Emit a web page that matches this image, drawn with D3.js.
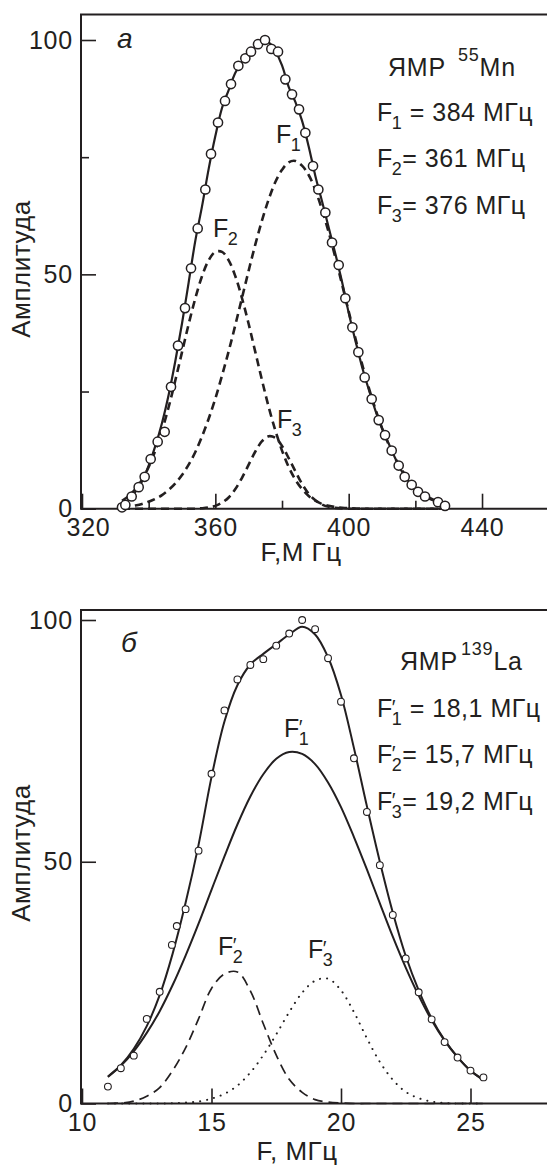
<!DOCTYPE html>
<html>
<head>
<meta charset="utf-8">
<script src="https://cdn.jsdelivr.net/npm/d3@7"></script>
<style>
  body { margin: 0; background: #fff; }
  svg { display: block; }
  text { font-family: "Liberation Sans", Arial, sans-serif; fill: #231f20; }
</style>
</head>
<body>
<svg id="chart" width="547" height="1167"></svg>
<script>
// ---------------------------------------------------------------- data --
// panel a : 55Mn NMR, F in MHz, amplitude in %
var mnGrid = [332, 334, 336, 338, 340, 342, 344, 346, 348, 350,
              352, 354, 356, 358, 360, 362, 364, 366, 368, 370,
              372, 374, 376, 378, 380, 382, 384, 386, 388, 390,
              392, 394, 396, 398, 400, 402, 404, 406, 408, 410,
              412, 414, 416, 418, 420, 422, 424, 426, 428, 430];
var mnTotal = [0.8, 2.0, 3.6, 5.8, 9.2, 13.4, 18.3, 24.3, 31.5, 39.5,
               48.3, 57.2, 64.5, 72.5, 79.5, 85.5, 89.3, 93.0, 95.4, 97.0,
               98.6, 99.6, 99.5, 97.6, 94.6, 90.0, 86.8, 82.8, 77.3, 71.0,
               65.6, 60.0, 54.4, 48.4, 41.8, 35.9, 30.3, 25.5, 21.0, 17.2,
               13.9, 10.7, 7.9, 5.8, 4.2, 3.0, 2.2, 1.6, 0.9, 0.4];
var mnF1 = [0.3, 0.5, 0.7, 1.0, 1.5, 2.1, 2.9, 4.0, 5.4, 7.2,
            9.4, 12.1, 15.4, 19.2, 23.5, 28.4, 33.6, 39.2, 45.0, 50.8,
            56.4, 61.5, 66.0, 69.7, 72.3, 73.9, 74.2, 73.2, 71.2, 68.0,
            63.8, 59.0, 53.6, 47.9, 42.1, 36.4, 30.9, 25.9, 21.3, 17.2,
            13.7, 10.7, 8.2, 6.2, 4.6, 3.4, 2.4, 1.7, 1.2, 0.8];
var mnF2 = [1.7, 2.7, 4.2, 6.2, 8.9, 12.4, 16.7, 21.7, 27.4, 33.4,
            39.4, 44.9, 49.6, 53.0, 54.8, 54.8, 53.0, 49.6, 44.9, 39.4,
            33.4, 27.4, 21.7, 16.7, 12.4, 8.9, 6.2, 4.2, 2.7, 1.7,
            1.0, 0.6, 0.35, 0.2, 0.1, 0.05, 0, 0, 0, 0,
            0, 0, 0, 0, 0, 0, 0, 0, 0, 0];
var mnF3 = [0, 0, 0, 0, 0, 0, 0, 0, 0, 0,
            0, 0, 0.1, 0.27, 0.6, 1.3, 2.4, 4.2, 6.6, 9.4,
            12.2, 14.4, 15.45, 15.1, 13.4, 10.8, 8.0, 5.3, 3.2, 1.8,
            0.9, 0.4, 0.17, 0.06, 0, 0, 0, 0, 0, 0,
            0, 0, 0, 0, 0, 0, 0, 0, 0, 0];
var mnPointsF = [332, 333, 334.9, 337, 338.8, 340.6, 342.7, 344.8, 346.7, 348.8,
                 350.9, 352.7, 354.7, 357, 358.7, 360.8, 362.9, 364.7, 366.9, 369,
                 370.7, 372.8, 374.9, 376.8, 378.8, 381, 383, 385.1, 387, 389.3,
                 390.9, 393, 395, 397, 399, 401.1, 402.9, 404.8, 406.9, 409,
                 410.9, 412.9, 415, 416.8, 418.9, 420.8, 422.9, 426.8, 428.9];
var mnPointsA = [0.3, 0.8, 2.6, 4.6, 6.8, 10.6, 14.3, 16.4, 26, 34.8,
                 42.8, 51.3, 59.8, 68.1, 75.7, 82.4, 87, 90.6, 94.5, 96.1,
                 97.5, 99.1, 100, 98.1, 97.5, 91.6, 88.4, 85.2, 80.2, 73.1,
                 68.1, 63.2, 56.8, 52, 44.9, 38.7, 33.4, 28, 23.4, 18.9,
                 15.7, 12.4, 9.2, 6.8, 5.1, 3.6, 2.6, 1.4, 0.6];

// panel б : 139La NMR
var laGrid = [11, 11.5, 12, 12.5, 13, 13.5, 14, 14.5, 15, 15.5,
              16, 16.5, 17, 17.5, 18, 18.5, 19, 19.5, 20, 20.5,
              21, 21.5, 22, 22.5, 23, 23.5, 24, 24.5, 25, 25.5];
var laTotal = [5.6, 7.9, 11.3, 16.0, 22.4, 31.0, 41.5, 53.5, 67.5, 79.0,
               86.5, 90.8, 93.0, 95.0, 97.0, 98.6, 97.0, 92.3, 84.5, 73.5,
               61.5, 50.0, 39.5, 30.5, 23.4, 17.6, 13.1, 9.6, 6.8, 4.9];
var laF1 = [5.5, 7.8, 10.8, 14.6, 19.1, 24.5, 30.6, 37.2, 44.2, 51.1,
            57.7, 63.5, 68.1, 71.3, 72.7, 72.3, 70.2, 66.4, 61.3, 55.1,
            48.4, 41.4, 34.5, 28.1, 22.3, 17.2, 13.0, 9.6, 6.8, 4.8];
var laF2 = [0, 0.1, 0.5, 1.5, 3.3, 6.8, 11.5, 17.5, 23.8, 26.8,
            27.2, 23.3, 16.5, 10.0, 5.0, 2.3, 0.8, 0.3, 0.1, 0,
            0, 0, 0, 0, 0, 0, 0, 0, 0, 0];
var laF3 = [0, 0, 0, 0, 0, 0.05, 0.2, 0.4, 1.0, 2.0,
            3.7, 6.4, 10.0, 14.3, 18.9, 22.9, 25.4, 25.8, 23.4, 18.9,
            13.5, 8.6, 4.9, 2.4, 1.1, 0.4, 0.1, 0, 0, 0];
var laPointsF = [11, 11.5, 12, 12.5, 13, 13.47, 13.66, 14, 14.5, 15,
                 15.5, 16, 16.5, 17, 17.5, 18, 18.5, 19, 19.5, 20,
                 20.5, 21, 21.5, 22, 22.5, 23, 23.5, 24, 24.5, 25, 25.5];
var laPointsA = [3.5, 7.3, 9.9, 17.5, 23.1, 32.8, 36.7, 40.2, 52.3, 68.2,
                 81.3, 87.7, 90.7, 91.9, 94.7, 97.2, 100, 98.1, 92.1, 83.1,
                 71.4, 60.3, 49.3, 39.0, 30.0, 23.0, 17.4, 12.7, 9.5, 6.8, 5.4];

// tick values
var mnXLabels = [320, 360, 400, 440], mnXMinor = [340, 380, 420];
var laXLabels = [10, 15, 20, 25];
var yLabels = [0, 50, 100], yMinor = [25, 75];

// ---------------------------------------------------------------- draw --
var W = 547;
var ink = "#231f20";
var svg = d3.select("#chart");

function zip(xs, ys) { return xs.map(function (v, i) { return [v, ys[i]]; }); }

// F with subscript (and optional prime above it), then the rest of the line
function fLabel(g, x, y, sub, prime, rest, size) {
    var t = g.append("text").attr("x", x).attr("y", y).attr("font-size", size)
        .style("letter-spacing", "0.5px");
    t.append("tspan").text("F");
    var fw = t.node().getComputedTextLength();
    if (prime) {
        t.append("tspan").attr("x", x + fw - 1).attr("dy", -3)
            .attr("font-size", size * 0.8).text("′");
        t.append("tspan").attr("x", x + fw - 1).attr("dy", 11)
            .attr("font-size", size * 0.72).text(sub);
    } else {
        t.append("tspan").attr("x", x + fw - 1).attr("dy", 8)
            .attr("font-size", size * 0.72).text(sub);
    }
    if (rest) t.append("tspan").attr("dy", -8).text(rest);
    return t;
}

function drawPanel(p) {
    var g = svg.append("g");
    var x = d3.scaleLinear().domain(p.xDomain).range(p.xRange);
    var y = d3.scaleLinear().domain([0, 100]).range(p.yRange);
    var y0 = y(0);

    // frame: left, top and bottom lines (right side runs off the page)
    g.append("path")
        .attr("d", "M" + W + "," + p.top + "H" + p.left + "V" + y0 + "H" + W)
        .attr("fill", "none").attr("stroke", ink).attr("stroke-width", 2);

    // x ticks, pointing inwards
    var gx = g.append("g").attr("transform", "translate(0," + y0 + ")")
        .call(d3.axisBottom(x).tickValues(p.xLabels).tickSizeInner(-15)
            .tickSizeOuter(0).tickPadding(10).tickFormat(d3.format("d")));
    if (p.xMinor) {
        g.append("g").attr("transform", "translate(0," + y0 + ")")
            .call(d3.axisBottom(x).tickValues(p.xMinor).tickSizeInner(-8)
                .tickSizeOuter(0).tickFormat(""));
    }
    gx.selectAll("text").attr("dx", function (d) { return d === p.xDomain[0] ? p.firstDx : 0; });

    g.append("g").attr("transform", "translate(" + p.left + ",0)")
        .call(d3.axisLeft(y).tickValues(yLabels).tickSizeInner(-15)
            .tickSizeOuter(0).tickPadding(8));
    if (p.yMinor) {
        g.append("g").attr("transform", "translate(" + p.left + ",0)")
            .call(d3.axisLeft(y).tickValues(yMinor).tickSizeInner(-8)
                .tickSizeOuter(0).tickFormat(""));
    }
    g.selectAll(".domain").remove();
    g.selectAll(".tick line").attr("stroke", ink).attr("stroke-width", 1.6);
    g.selectAll(".tick text").attr("font-size", 25)
        .attr("font-family", "Liberation Sans, Arial, sans-serif")
        .attr("fill", ink).style("letter-spacing", "0.8px");

    var line = d3.line()
        .x(function (d) { return x(d[0]); })
        .y(function (d) { return y(d[1]); })
        .curve(d3.curveCatmullRom.alpha(0.5));

    p.curves.forEach(function (c) {
        g.append("path")
            .attr("d", line(zip(p.grid, c.values)))
            .attr("fill", "none").attr("stroke", ink)
            .attr("stroke-width", c.width)
            .attr("stroke-dasharray", c.dash || null)
            .attr("stroke-linecap", c.cap || "butt");
    });

    g.selectAll("circle.pt").data(zip(p.pointsF, p.pointsA)).join("circle")
        .attr("class", "pt")
        .attr("cx", function (d) { return x(d[0]); })
        .attr("cy", function (d) { return y(d[1]); })
        .attr("r", p.r).attr("fill", "#fff").attr("stroke", ink).attr("stroke-width", p.rw);

    // axis titles
    g.append("text").attr("transform", "translate(30," + p.yTitleY + ") rotate(-90)")
        .attr("text-anchor", "middle").attr("font-size", 26).style("letter-spacing", "0.5px")
        .text("Амплитуда");
    g.append("text").attr("x", p.xTitle[0]).attr("y", p.xTitle[1])
        .attr("text-anchor", "middle").attr("font-size", 26).style("letter-spacing", "0.5px")
        .text(p.xTitleText);

    // panel letter
    g.append("text").attr("x", p.letter[0]).attr("y", p.letter[1])
        .attr("font-family", "Liberation Serif, Times New Roman, serif")
        .attr("font-style", "italic").attr("font-size", 28).text(p.letterText);

    return g;
}

// ---- panel a
var ga = drawPanel({
    xDomain: [320, 460], xRange: [82, 548.7], yRange: [508.7, 40],
    left: 81, top: 14.5, xLabels: mnXLabels, xMinor: mnXMinor, yMinor: true, firstDx: 6,
    grid: mnGrid,
    curves: [
        { values: mnF1, width: 2.6, dash: "8,5" },
        { values: mnF2, width: 2.6, dash: "8,5" },
        { values: mnF3, width: 2.6, dash: "8,5" },
        { values: mnTotal, width: 2.2 }
    ],
    pointsF: mnPointsF, pointsA: mnPointsA, r: 4.6, rw: 1.5,
    yTitleY: 269, xTitle: [301, 561], xTitleText: "F,М Гц",
    letter: [117, 48], letterText: "а"
});

var sz = 25;
var lgA = ga.append("text").attr("x", 388).attr("y", 76).attr("font-size", 25).style("letter-spacing", "0.8px");
lgA.append("tspan").text("ЯМР");
lgA.append("tspan").attr("dx", 12).attr("dy", -15).attr("font-size", 18).text("55");
lgA.append("tspan").attr("dy", 15).text("Mn");
fLabel(ga, 377, 121, "1", false, " = 384 МГц", sz);
fLabel(ga, 377, 167, "2", false, "= 361 МГц", sz);
fLabel(ga, 377, 214, "3", false, "= 376 МГц", sz);
fLabel(ga, 276, 143, "1", false, null, sz);
fLabel(ga, 213, 237, "2", false, null, sz);
fLabel(ga, 277, 428, "3", false, null, sz);

// ---- panel б
var gb = drawPanel({
    xDomain: [10, 28], xRange: [82, 548.2], yRange: [1103.5, 620],
    left: 81, top: 610, xLabels: laXLabels, xMinor: null, yMinor: false, firstDx: 0,
    grid: laGrid,
    curves: [
        { values: laF2, width: 1.7, dash: "10,6" },
        { values: laF3, width: 2, dash: "0.1,7", cap: "round" },
        { values: laF1, width: 2 },
        { values: laTotal, width: 2 }
    ],
    pointsF: laPointsF, pointsA: laPointsA, r: 3.4, rw: 1.1,
    yTitleY: 853, xTitle: [297, 1160], xTitleText: "F, МГц",
    letter: [121, 652], letterText: "б"
});

var lgB = gb.append("text").attr("x", 400).attr("y", 670).attr("font-size", 25).style("letter-spacing", "0.8px");
lgB.append("tspan").text("ЯМР");
lgB.append("tspan").attr("dx", 3).attr("dy", -15).attr("font-size", 18).text("139");
lgB.append("tspan").attr("dy", 15).text("La");
fLabel(gb, 377, 717, "1", true, " = 18,1 МГц", sz);
fLabel(gb, 377, 763, "2", true, "= 15,7 МГц", sz);
fLabel(gb, 377, 810, "3", true, "= 19,2 МГц", sz);
fLabel(gb, 284, 737, "1", true, null, sz);
fLabel(gb, 218, 955, "2", true, null, sz);
fLabel(gb, 308, 958, "3", true, null, sz);
</script>
</body>
</html>
